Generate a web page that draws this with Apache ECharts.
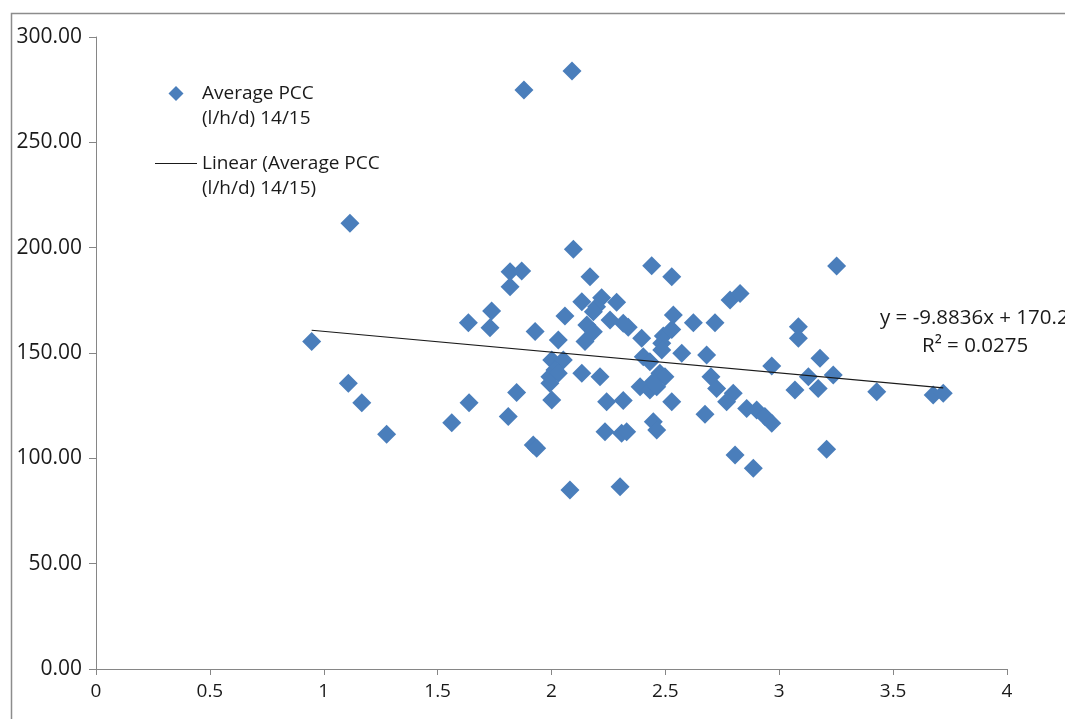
<!DOCTYPE html>
<html>
<head>
<meta charset="utf-8">
<script src="https://cdn.jsdelivr.net/npm/echarts@6/dist/echarts.min.js"></script>
<style>
html,body{margin:0;padding:0;background:#fff;}
#chart{width:1065px;height:719px;}
</style>
</head>
<body>
<div id="chart"></div>
<script>
// Average PCC (l/h/d) 14/15 — x values
const pccX = [
  0.947, 1.115, 1.108, 1.167, 1.276, 1.562, 1.635, 1.638, 1.737, 1.730,
  1.818, 1.869, 1.818, 1.847, 1.810, 1.879, 1.928, 1.920, 1.935, 2.081,
  2.090, 2.096, 2.169, 2.133, 2.059, 2.030, 2.220, 2.198, 2.286, 2.184,
  2.257, 2.315, 2.337, 2.155, 2.184, 2.147, 2.396, 2.535, 2.491, 2.528,
  2.484, 2.484, 2.001, 2.052, 2.015, 1.993, 2.030, 1.993, 2.403, 2.432,
  2.133, 2.213, 2.476, 2.498, 2.389, 2.432, 2.447, 2.462, 2.001, 2.242,
  2.315, 2.528, 2.447, 2.462, 2.235, 2.308, 2.330, 2.301, 2.440, 2.528,
  2.784, 2.828, 2.623, 2.718, 2.572, 2.681, 2.700, 2.725, 2.798, 2.769,
  2.674, 2.857, 2.901, 2.937, 2.967, 2.967, 2.806, 2.886, 3.252, 3.084,
  3.084, 3.179, 3.128, 3.237, 3.069, 3.171, 3.428, 3.676, 3.720, 3.208
];
// Average PCC (l/h/d) 14/15 — y values
const pccY = [
  155.4, 211.6, 135.6, 126.4, 111.4, 116.9, 164.4, 126.4, 169.9, 162.0,
  188.6, 188.9, 181.5, 131.2, 119.8, 274.8, 160.2, 106.3, 104.8, 85.0,
  283.9, 199.2, 186.2, 174.3, 167.6, 156.2, 176.2, 172.0, 174.1, 169.6,
  165.7, 164.1, 162.2, 163.3, 160.1, 155.4, 157.0, 168.0, 158.1, 161.2,
  154.6, 151.4, 146.7, 146.7, 141.9, 138.7, 140.4, 135.6, 148.2, 145.9,
  140.4, 138.7, 140.4, 138.7, 134.0, 132.4, 136.4, 134.0, 127.7, 126.9,
  127.4, 126.9, 117.4, 113.4, 112.6, 111.9, 112.6, 86.5, 191.4, 186.2,
  175.2, 178.3, 164.4, 164.4, 149.9, 149.0, 138.7, 133.2, 130.9, 126.9,
  120.9, 123.7, 122.9, 119.8, 116.6, 143.8, 101.6, 95.3, 191.3, 162.5,
  157.0, 147.5, 138.7, 139.6, 132.4, 133.2, 131.6, 130.1, 130.9, 104.3
];
// Linear trend line endpoints
const trendX = [0.947, 3.72];
const trendY = [160.8, 133.4];
const yTicks = ['0.00','50.00','100.00','150.00','200.00','250.00','300.00'];
const seriesName = 'Average PCC\n(l/h/d) 14/15';
const trendName = 'Linear (Average PCC\n(l/h/d) 14/15)';
const eqText = 'y = -9.8836x + 170.2';
const r2Text = 'R\u00B2 = 0.0275';

const scatterData = pccX.map((x, i) => [x, pccY[i]]);
const trendData = trendX.map((x, i) => [x, trendY[i]]);

const FONT = '"Open Sans", "Noto Sans", sans-serif';
const TXT = '#1a1a1a';
const chart = echarts.init(document.getElementById('chart'), null, {renderer: 'canvas'});
chart.setOption({
  backgroundColor: '#ffffff',
  animation: false,
  grid: {left: 96, right: 58, top: 37, bottom: 50, containLabel: false},
  legend: {
    orient: 'vertical',
    left: 150,
    top: 51,
    itemWidth: 42,
    itemHeight: 15,
    itemGap: -5,
    symbolKeepAspect: true,
    selectedMode: false,
    formatter: name => '\u00a0\n' + name,
    textStyle: {fontFamily: FONT, fontSize: 19, color: TXT, lineHeight: 25},
    data: [
      {name: seriesName, icon: 'path://M0,-1L1,0L0,1L-1,0Z'},
      {name: trendName, icon: 'path://M0,0H40V1H0Z'}
    ]
  },
  xAxis: {
    type: 'value', min: 0, max: 4, interval: 0.5,
    splitLine: {show: false},
    axisLine: {show: true, onZero: false, lineStyle: {color: '#868686', width: 1}},
    axisTick: {show: true, inside: false, length: 6, lineStyle: {color: '#868686'}},
    axisLabel: {fontFamily: FONT, fontSize: 19, color: TXT, margin: 13,
      formatter: v => String(v)}
  },
  yAxis: {
    type: 'value', min: 0, max: 300, interval: 50,
    splitLine: {show: false},
    axisLine: {show: true, lineStyle: {color: '#868686', width: 1}},
    axisTick: {show: true, inside: false, length: 7, lineStyle: {color: '#868686'}},
    axisLabel: {fontFamily: FONT, fontSize: 21, color: TXT, margin: 14,
      formatter: v => yTicks[Math.round(v / 50)]}
  },
  series: [
    {
      name: seriesName,
      type: 'scatter',
      symbol: 'diamond',
      symbolSize: 19,
      itemStyle: {color: '#4A7EBB', opacity: 1},
      data: scatterData,
      z: 2
    },
    {
      name: trendName,
      type: 'line',
      symbol: 'none',
      lineStyle: {color: '#1a1a1a', width: 1.2},
      itemStyle: {color: '#1a1a1a'},
      data: trendData,
      z: 3
    }
  ],
  graphic: [
    {type: 'rect', left: 9, top: 11, z: -1, silent: true,
      shape: {width: 1200, height: 900},
      style: {fill: 'none', stroke: '#8c8c8c', lineWidth: 1.5}},
    {type: 'text', left: 880, top: 308,
      style: {text: eqText, fontFamily: FONT, fontSize: 20.5, fill: TXT}},
    {type: 'text', left: 922, top: 336,
      style: {text: r2Text, fontFamily: FONT, fontSize: 20.5, fill: TXT}}
  ]
});
</script>
</body>
</html>
